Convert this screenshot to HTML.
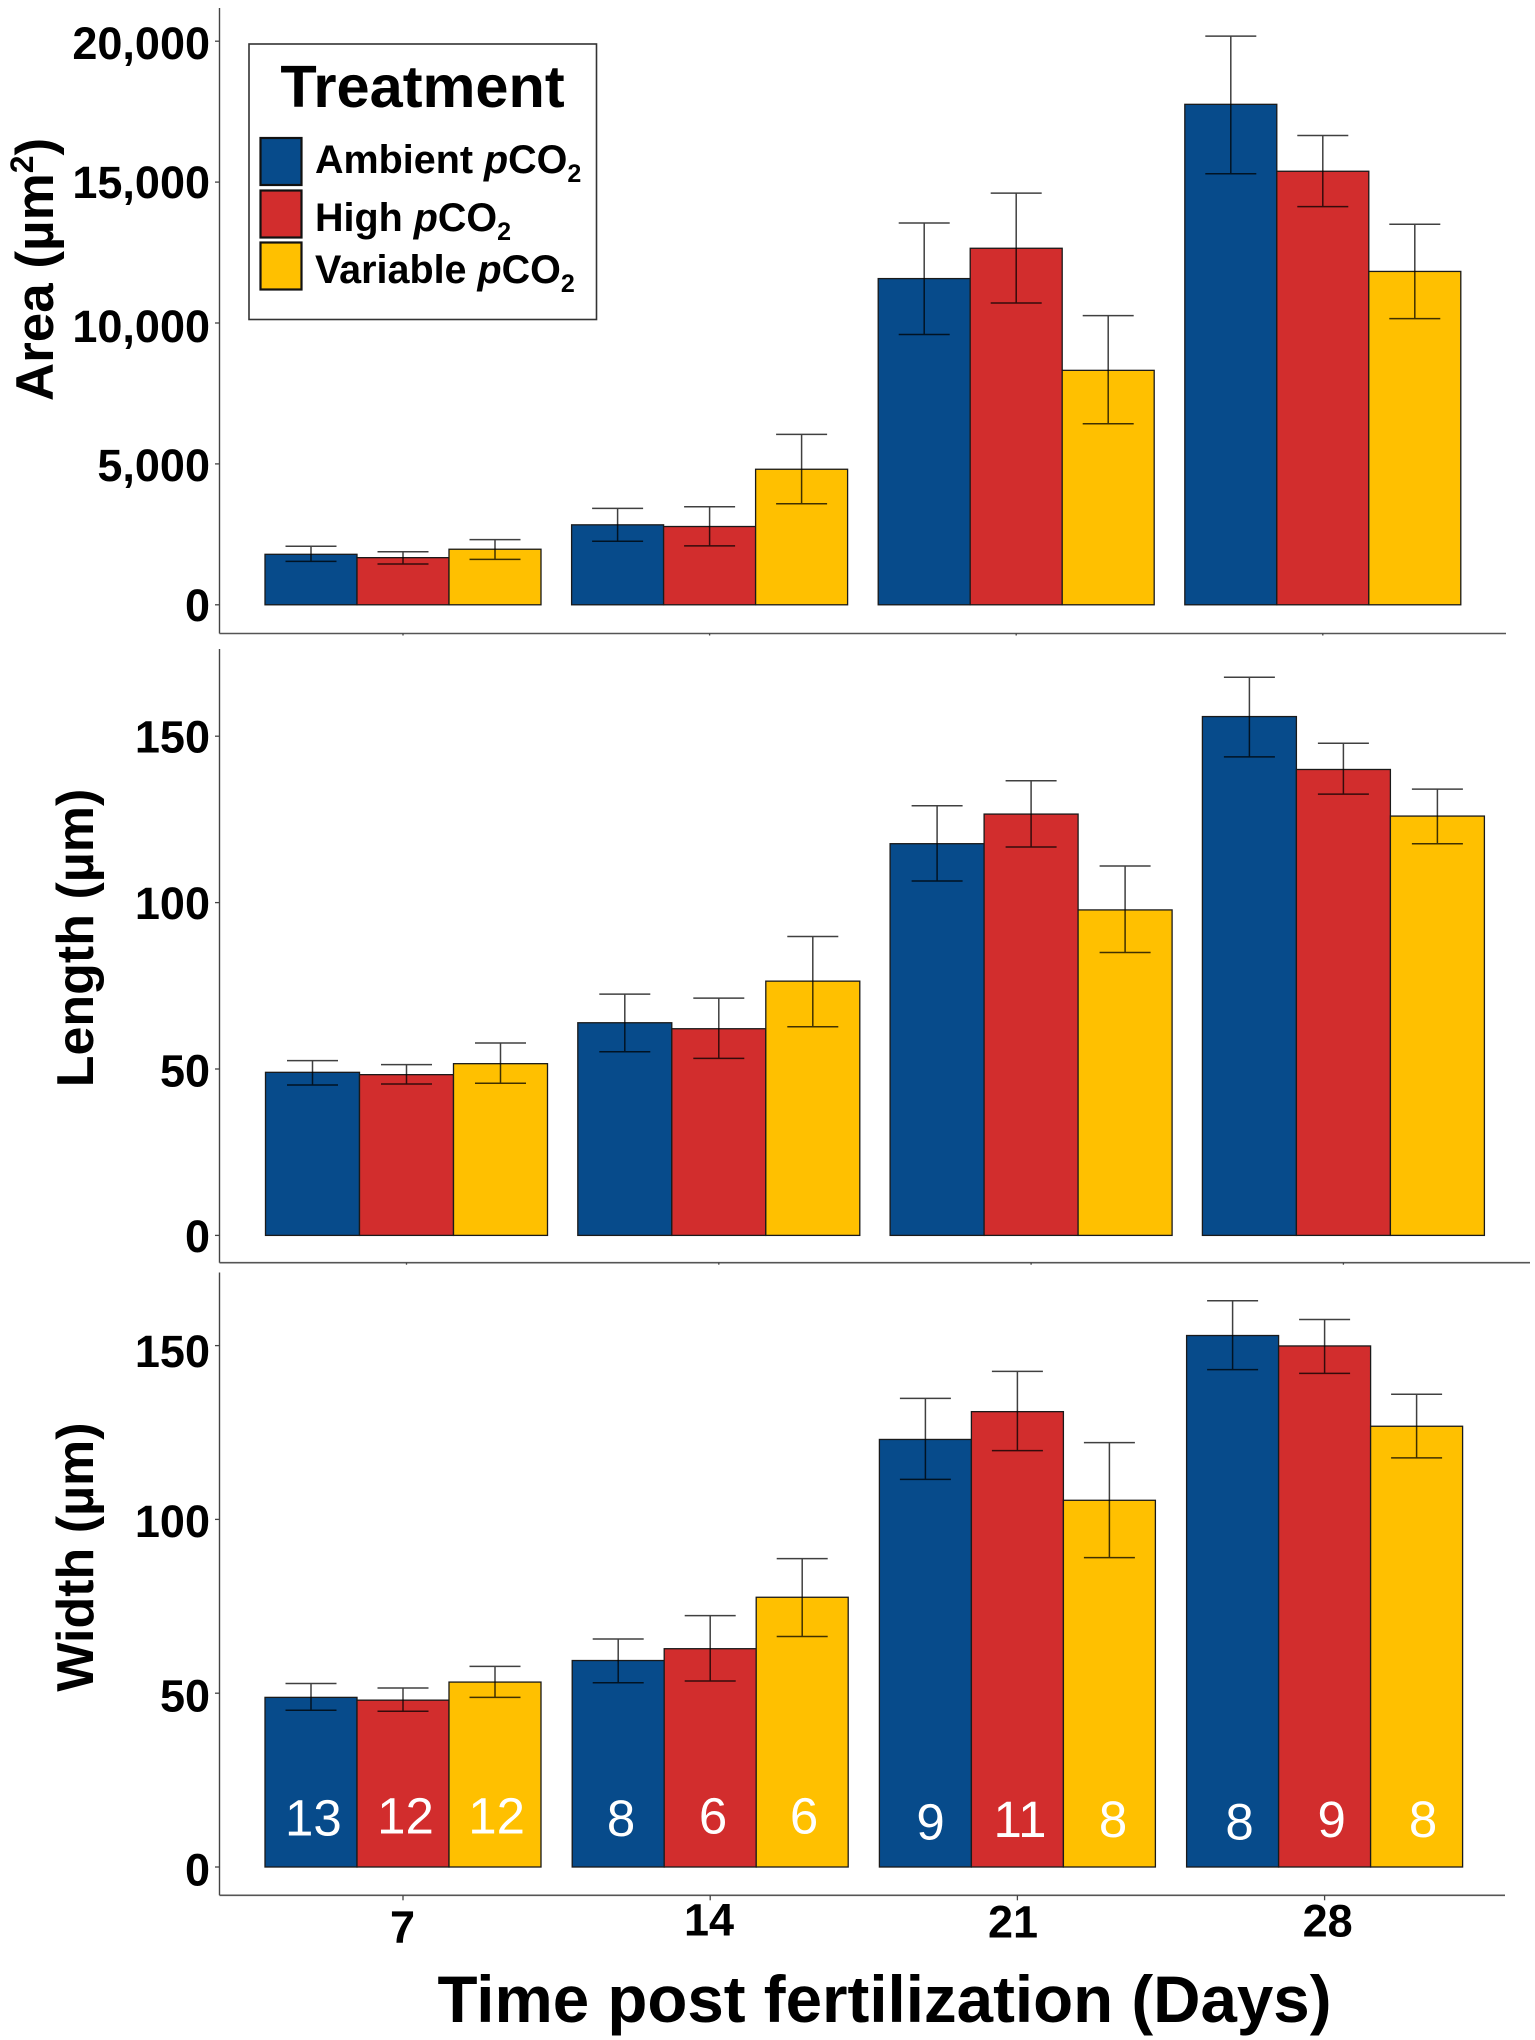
<!DOCTYPE html>
<html lang="en">
<head>
<meta charset="utf-8">
<title>Larval size by treatment over time</title>
<style>
html,body{margin:0;padding:0;background:#fff;}
svg{display:block;font-family:"Liberation Sans",sans-serif;}
.tick-label{font-weight:700;font-size:45px;fill:#000;}
.axis-title{font-weight:700;fill:#000;}
.legend-label{font-weight:700;font-size:39.5px;fill:#000;}
</style>
</head>
<body>
<svg id="chart" xmlns="http://www.w3.org/2000/svg" width="1535" height="2040" viewBox="0 0 1535 2040">
  <rect x="0" y="0" width="1535" height="2040" fill="#fff"/>
  <g id="panels"></g>

  <text class="axis-title" font-size="53" text-anchor="middle" transform="translate(53,269.5) rotate(-90)">Area (µm<tspan font-size="32" dy="-20">2</tspan><tspan dy="20">)</tspan></text>
  <text class="axis-title" font-size="52" text-anchor="middle" transform="translate(93,938) rotate(-90)">Length (µm)</text>
  <text class="axis-title" font-size="52" text-anchor="middle" transform="translate(93,1557) rotate(-90)">Width (µm)</text>
  <text class="axis-title" font-size="65.5" text-anchor="middle" x="884.5" y="2022">Time post fertilization (Days)</text>

  <g>
    <rect x="249" y="44" width="347.5" height="275.5" fill="#fff" stroke="#333" stroke-width="1.6"/>
    <text class="axis-title" font-size="59.5" text-anchor="middle" x="422.5" y="107">Treatment</text>
    <g>
      <rect x="260.5" y="138" width="41" height="47" fill="#074b8b" stroke="#111" stroke-width="2.2"/>
      <text class="legend-label" x="315" y="173">Ambient <tspan font-style="italic">p</tspan>CO<tspan font-size="25" dy="9">2</tspan></text>
    </g>
    <g>
      <rect x="260.5" y="190.5" width="41" height="47" fill="#d22d2d" stroke="#111" stroke-width="2.2"/>
      <text class="legend-label" x="315" y="231">High <tspan font-style="italic">p</tspan>CO<tspan font-size="25" dy="9">2</tspan></text>
    </g>
    <g>
      <rect x="260.5" y="242.5" width="41" height="47" fill="#ffc000" stroke="#111" stroke-width="2.2"/>
      <text class="legend-label" x="315" y="283">Variable <tspan font-style="italic">p</tspan>CO<tspan font-size="25" dy="9">2</tspan></text>
    </g>
  </g>
</svg>

<script>
// ---- Data (rows: day; columns: ambient, high, variable) ----
const days = ["7", "14", "21", "28"];
const treatments = ["ambient", "high", "variable"];

const areaMean  = [[1792, 1673, 1972], [2838, 2778, 4810], [11576, 12652, 8320], [17760, 15385, 11830]];
const areaUpper = [[2076, 1882, 2315], [3421, 3480, 6049], [13548, 14608, 10262], [20180, 16655, 13503]];
const areaLower = [[1539, 1449, 1613], [2256, 2091, 3585], [9590, 10710, 6423], [15295, 14130, 10157]];

const lengthMean  = [[49.0, 48.3, 51.6], [63.9, 62.1, 76.4], [117.7, 126.6, 97.8], [155.9, 140.0, 126.0]];
const lengthUpper = [[52.5, 51.3, 57.8], [72.5, 71.3, 89.8], [129.1, 136.6, 111.0], [167.7, 147.9, 134.1]];
const lengthLower = [[45.2, 45.5, 45.7], [55.2, 53.2, 62.7], [106.5, 116.7, 85.0], [143.8, 132.6, 117.7]];

const widthMean  = [[48.8, 48.0, 53.2], [59.4, 62.8, 77.6], [123.0, 131.0, 105.5], [152.9, 149.9, 126.8]];
const widthUpper = [[52.8, 51.5, 57.7], [65.6, 72.3, 88.7], [134.8, 142.6, 122.1], [162.9, 157.5, 136.0]];
const widthLower = [[45.1, 44.8, 48.8], [53.0, 53.5, 66.3], [111.5, 119.8, 89.0], [143.1, 142.0, 117.7]];

const sampleSizes = [[13, 12, 12], [8, 6, 6], [9, 11, 8], [8, 9, 8]];

const areaTicks = [0, 5000, 10000, 15000, 20000];
const areaTickLabels = ["0", "5,000", "10,000", "15,000", "20,000"];
const sizeTicks = [0, 50, 100, 150];
const sizeTickLabels = ["0", "50", "100", "150"];

// ---- Drawing ----
const colors = ["#074b8b", "#d22d2d", "#ffc000"];
const SVGNS = "http://www.w3.org/2000/svg";
const root = document.getElementById("panels");

// Small hand-placement offsets of text labels in the source figure (layout, not data).
const xLabelShift = [[-0.5, 5.5], [-1.2, -1.5], [-4.4, 0.5], [3, -0.5]];
const sampleShiftX = [[2.4, 2.5, 1.6], [2.8, 2.8, 1.8], [5.2, 2.6, 3.6], [7, 7.1, 6.4]];
const sampleShiftY = [[-0.4, -2.4, -2.4], [0, -2.4, -2.4], [3.6, 1, 1], [3.6, 1, 1]];

function el(parent, tag, attrs) {
  const node = document.createElementNS(SVGNS, tag);
  for (const k in attrs) node.setAttribute(k, attrs[k]);
  parent.appendChild(node);
  return node;
}

function linear(d0, d1, r0, r1) {
  return function (v) { return r0 + (v - d0) * (r1 - r0) / (d1 - d0); };
}

function drawPanel(cfg) {
  const g = el(root, "g", {});
  
  

  const y = linear(cfg.domain[0], cfg.domain[1], cfg.yRange[0], cfg.yRange[1]);
  const groupX = function (i) { return cfg.firstBar + i * cfg.step; };
  const barX = function (i, s) { return groupX(i) + s * cfg.barWidth; };
  const tickX = function (i) { return groupX(i) + 1.5 * cfg.barWidth; };

  // bars
  cfg.mean.forEach(function (row, i) {
    row.forEach(function (v, s) {
      const bar = el(g, "rect", {
        x: barX(i, s), y: y(v), width: cfg.barWidth, height: y(0) - y(v),
        fill: colors[s], stroke: "#1a1a1a", "stroke-width": 1.3
      });
      
      
    });
  });

  // error bars
  cfg.mean.forEach(function (row, i) {
    row.forEach(function (v, s) {
      const cx = barX(i, s) + cfg.barWidth / 2;
      const hi = y(cfg.upper[i][s]);
      const lo = y(cfg.lower[i][s]);
      const capW = 25.5;
      const path = el(g, "path", {
        d: "M" + (cx - capW) + " " + hi + "H" + (cx + capW) +
           "M" + cx + " " + hi + "V" + lo +
           "M" + (cx - capW) + " " + lo + "H" + (cx + capW),
        fill: "none", stroke: "#000", "stroke-opacity": 0.75, "stroke-width": 1.5
      });
      
      
    });
  });

  // axes
  const yAxis = el(g, "line", {
    x1: cfg.axisX, x2: cfg.axisX, y1: cfg.top, y2: cfg.bottom, stroke: "#444", "stroke-width": 1.4
  });
  
  
  const xAxis = el(g, "line", {
    x1: cfg.axisX, x2: cfg.right, y1: cfg.bottom, y2: cfg.bottom, stroke: "#555", "stroke-width": 1.6
  });
  
  

  // y ticks
  cfg.ticks.forEach(function (t, k) {
    const tick = el(g, "line", {
      x1: cfg.axisX - 4.5, x2: cfg.axisX, y1: y(t), y2: y(t), stroke: "#444", "stroke-width": 1.3
    });
    
    
    const label = el(g, "text", {
      x: 210, y: y(t) + cfg.labelDrop + cfg.labelShift[k], "text-anchor": "end", "class": "tick-label"
    });
    label.textContent = cfg.tickLabels[k];
    
    
  });

  // x ticks
  days.forEach(function (d, i) {
    const tick = el(g, "line", {
      x1: tickX(i), x2: tickX(i), y1: cfg.bottom, y2: cfg.bottom + cfg.tickLen, stroke: "#444", "stroke-width": 1.3
    });
    
    
  });

  return { y: y, barX: barX, tickX: tickX };
}

drawPanel({
  name: "area", mean: areaMean, upper: areaUpper, lower: areaLower,
  ticks: areaTicks, tickLabels: areaTickLabels,
  domain: [0, 20000], yRange: [604.8, 41.2], labelDrop: 16, labelShift: [0, 1, 3, 0, 2],
  firstBar: 265, step: 306.6, barWidth: 92,
  axisX: 219.5, top: 8, bottom: 633.5, right: 1506, tickLen: 2
});

drawPanel({
  name: "length", mean: lengthMean, upper: lengthUpper, lower: lengthLower,
  ticks: sizeTicks, tickLabels: sizeTickLabels,
  domain: [0, 150], yRange: [1235.4, 736.2], labelDrop: 16.5, labelShift: [0, 1, 0, 0],
  firstBar: 265.5, step: 312.3, barWidth: 94,
  axisX: 219.5, top: 649, bottom: 1262.7, right: 1530, tickLen: 2
});

const widthPanel = drawPanel({
  name: "width", mean: widthMean, upper: widthUpper, lower: widthLower,
  ticks: sizeTicks, tickLabels: sizeTickLabels,
  domain: [0, 150], yRange: [1867, 1345.6], labelDrop: 18.5, labelShift: [0, 0, -1, 3],
  firstBar: 265, step: 307.2, barWidth: 92,
  axisX: 219.5, top: 1272.5, bottom: 1895.3, right: 1505, tickLen: 5
});

// x tick labels (shared, under the bottom panel)
days.forEach(function (d, i) {
  const label = el(root, "text", {
    x: widthPanel.tickX(i) + xLabelShift[i][0], y: 1937 + xLabelShift[i][1], "text-anchor": "middle", "class": "tick-label"
  });
  label.textContent = d;
  
  
});

// sample sizes inside the bottom panel's bars
sampleSizes.forEach(function (row, i) {
  row.forEach(function (n, s) {
    const label = el(root, "text", {
      x: widthPanel.barX(i, s) + 46 + sampleShiftX[i][s], y: 1836 + sampleShiftY[i][s], "text-anchor": "middle",
      "font-size": 51, fill: "#fff"
    });
    label.textContent = n;
    
    
  });
});
</script>
</body>
</html>
